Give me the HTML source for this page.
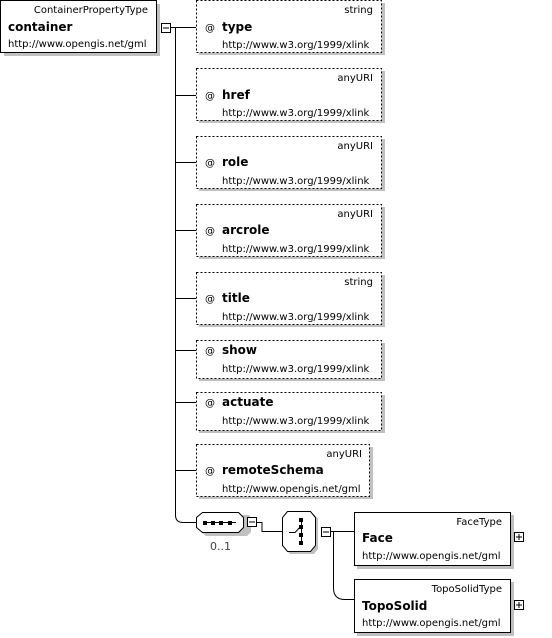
<!DOCTYPE html>
<html><head><meta charset="utf-8"><style>
html,body{margin:0;padding:0;background:#fff;}
svg{display:block;font-family:"DejaVu Sans","Liberation Sans",sans-serif;}
.t{font-size:10px;}
.n{font-size:12px;font-weight:bold;}
.u{font-size:10px;}
</style></head><body>
<svg width="552" height="638" viewBox="0 0 552 638" xmlns="http://www.w3.org/2000/svg">
<defs>
<g id="minus"><rect x="0.5" y="0.5" width="9" height="9" fill="#fff" stroke="#000"/><line x1="2" y1="5" x2="8" y2="5" stroke="#000"/></g>
<g id="plus"><rect x="0.5" y="0.5" width="9" height="9" fill="#fff" stroke="#000"/><line x1="2" y1="5" x2="8" y2="5" stroke="#000"/><line x1="5" y1="2" x2="5" y2="8" stroke="#000"/></g>
</defs>
<!-- container -->
<rect x="4" y="4" width="156" height="52" fill="#c0c0c0"/>
<rect x="0.5" y="0.5" width="156" height="52" fill="#fff" stroke="#000"/>
<text class="t" x="148" y="13" text-anchor="end">ContainerPropertyType</text>
<text class="n" x="8" y="31">container</text>
<text class="u" x="8" y="47">http://www.opengis.net/gml</text>
<use href="#minus" x="161" y="23"/>
<g stroke="#000" fill="none">
<line x1="171" y1="27.5" x2="196" y2="27.5"/>
<path d="M175.5 27 V515 Q175.5 522.5 183 522.5 H196"/>
<line x1="175" y1="95.5" x2="196" y2="95.5"/>
<line x1="175" y1="162.5" x2="196" y2="162.5"/>
<line x1="175" y1="230.5" x2="196" y2="230.5"/>
<line x1="175" y1="298.5" x2="196" y2="298.5"/>
<line x1="175" y1="350.5" x2="196" y2="350.5"/>
<line x1="175" y1="402.5" x2="196" y2="402.5"/>
<line x1="175" y1="470.5" x2="196" y2="470.5"/>
<path d="M257 522.5 H262 V531.5 H282"/>
<path d="M331 531.5 H333.5 V588 Q333.5 599.5 345 599.5 H354"/>
<line x1="333" y1="531.5" x2="354" y2="531.5"/>
</g>
<!-- attributes -->
<g>
<rect x="199" y="3" width="186" height="52" fill="#c0c0c0"/>
<rect x="196.5" y="0.5" width="185" height="52" fill="#fff" stroke="#000" stroke-dasharray="2,2"/>
<text class="t" x="373" y="13" text-anchor="end">string</text>
<text class="t" x="205" y="31">@</text><text class="n" x="222" y="31">type</text>
<text class="u" x="222" y="48">http://www.w3.org/1999/xlink</text>

<rect x="199" y="71" width="186" height="52" fill="#c0c0c0"/>
<rect x="196.5" y="68.5" width="185" height="52" fill="#fff" stroke="#000" stroke-dasharray="2,2"/>
<text class="t" x="373" y="81" text-anchor="end">anyURI</text>
<text class="t" x="205" y="99">@</text><text class="n" x="222" y="99">href</text>
<text class="u" x="222" y="116">http://www.w3.org/1999/xlink</text>

<rect x="199" y="139" width="186" height="52" fill="#c0c0c0"/>
<rect x="196.5" y="136.5" width="185" height="52" fill="#fff" stroke="#000" stroke-dasharray="2,2"/>
<text class="t" x="373" y="149" text-anchor="end">anyURI</text>
<text class="t" x="205" y="166">@</text><text class="n" x="222" y="166">role</text>
<text class="u" x="222" y="184">http://www.w3.org/1999/xlink</text>

<rect x="199" y="207" width="186" height="52" fill="#c0c0c0"/>
<rect x="196.5" y="204.5" width="185" height="52" fill="#fff" stroke="#000" stroke-dasharray="2,2"/>
<text class="t" x="373" y="217" text-anchor="end">anyURI</text>
<text class="t" x="205" y="234">@</text><text class="n" x="222" y="234">arcrole</text>
<text class="u" x="222" y="252">http://www.w3.org/1999/xlink</text>

<rect x="199" y="275" width="186" height="52" fill="#c0c0c0"/>
<rect x="196.5" y="272.5" width="185" height="52" fill="#fff" stroke="#000" stroke-dasharray="2,2"/>
<text class="t" x="373" y="285" text-anchor="end">string</text>
<text class="t" x="205" y="302">@</text><text class="n" x="222" y="302">title</text>
<text class="u" x="222" y="320">http://www.w3.org/1999/xlink</text>

<rect x="199" y="343" width="186" height="38" fill="#c0c0c0"/>
<rect x="196.5" y="340.5" width="185" height="38" fill="#fff" stroke="#000" stroke-dasharray="2,2"/>
<text class="t" x="205" y="354">@</text><text class="n" x="222" y="354">show</text>
<text class="u" x="222" y="372">http://www.w3.org/1999/xlink</text>

<rect x="199" y="395" width="186" height="38" fill="#c0c0c0"/>
<rect x="196.5" y="392.5" width="185" height="38" fill="#fff" stroke="#000" stroke-dasharray="2,2"/>
<text class="t" x="205" y="406">@</text><text class="n" x="222" y="406">actuate</text>
<text class="u" x="222" y="424">http://www.w3.org/1999/xlink</text>

<rect x="199" y="447" width="174" height="52" fill="#c0c0c0"/>
<rect x="196.5" y="444.5" width="173" height="52" fill="#fff" stroke="#000" stroke-dasharray="2,2"/>
<text class="t" x="362" y="457" text-anchor="end">anyURI</text>
<text class="t" x="205" y="474">@</text><text class="n" x="222" y="474">remoteSchema</text>
<text class="u" x="222" y="492">http://www.opengis.net/gml</text>
</g>
<!-- sequence -->
<path d="M206 515 H249 L251 518 V532 L247 536 H206 L201 532 V518 Z" fill="#c0c0c0"/>
<path d="M202.5 512.5 H238.5 L243.5 517.5 V527.5 L238.5 532.5 H202.5 L196.5 527.5 V517.5 Z" fill="#fff" stroke="#000"/>
<line x1="204" y1="522.5" x2="236" y2="522.5" stroke="#000"/>
<rect x="203" y="521" width="4" height="4"/><rect x="211" y="521" width="4" height="4"/><rect x="219" y="521" width="4" height="4"/><rect x="228" y="521" width="4" height="4"/>
<text x="210" y="550" font-size="11" fill="#444">0..1</text>
<use href="#minus" x="247" y="517"/>
<!-- choice -->
<path d="M290 514 H314 L318 519 V549 L314 554 H290 L285 549 V519 Z" fill="#c0c0c0"/>
<path d="M287.5 511.5 H310.5 L315.5 517.5 V545.5 L310.5 551.5 H287.5 L282.5 545.5 V517.5 Z" fill="#fff" stroke="#000"/>
<g stroke="#000"><line x1="301.5" y1="520" x2="301.5" y2="544"/><path d="M289 532.5 H295 L301 526" fill="none"/></g>
<rect x="299" y="518" width="4" height="4"/><rect x="299" y="525" width="4" height="4"/><rect x="299" y="533" width="4" height="4"/><rect x="299" y="541" width="4" height="4"/>
<use href="#minus" x="321" y="527"/>
<!-- Face -->
<rect x="357" y="515" width="157" height="54" fill="#c0c0c0"/>
<rect x="354.5" y="512.5" width="156" height="53" fill="#fff" stroke="#000"/>
<text class="t" x="502" y="525" text-anchor="end">FaceType</text>
<text class="n" x="362" y="542">Face</text>
<text class="u" x="362" y="559">http://www.opengis.net/gml</text>
<use href="#plus" x="514" y="532"/>
<!-- TopoSolid -->
<rect x="357" y="582" width="157" height="54" fill="#c0c0c0"/>
<rect x="354.5" y="579.5" width="156" height="53" fill="#fff" stroke="#000"/>
<text class="t" x="502" y="592" text-anchor="end">TopoSolidType</text>
<text class="n" x="362" y="610">TopoSolid</text>
<text class="u" x="362" y="626">http://www.opengis.net/gml</text>
<use href="#plus" x="514" y="600"/>
</svg>
</body></html>
